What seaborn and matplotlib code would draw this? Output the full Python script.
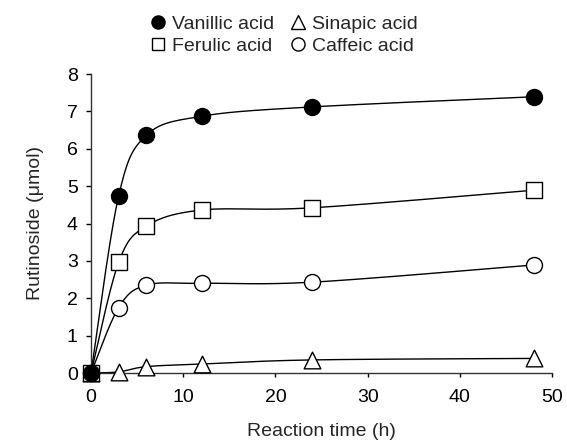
import numpy as np
import pandas as pd
import matplotlib
matplotlib.use("Agg")
import matplotlib.pyplot as plt
import seaborn as sns
from matplotlib.lines import Line2D

# ---- data ----
time_h = [0, 3, 6, 12, 24, 48]
vanillic = [0.0, 4.74, 6.36, 6.87, 7.12, 7.39]
ferulic = [0.0, 2.96, 3.93, 4.36, 4.42, 4.89]
caffeic = [0.0, 1.75, 2.35, 2.40, 2.43, 2.89]
sinapic = [0.0, 0.03, 0.17, 0.24, 0.35, 0.39]
series_names = ["Vanillic acid", "Ferulic acid", "Sinapic acid", "Caffeic acid"]
x_ticks = [0, 10, 20, 30, 40, 50]
y_ticks = [0, 1, 2, 3, 4, 5, 6, 7, 8]

sns.set_theme(style="ticks")
plt.rcParams["font.family"] = ["Liberation Sans", "DejaVu Sans"]

fig = plt.figure(figsize=(5.67, 4.44), dpi=100)
ax = fig.add_axes([91 / 567, 1 - 373 / 444, (552 - 91) / 567, (373 - 74) / 444])

def smooth(xs, ys, n=40):
    # Catmull-Rom style smoothing (like spreadsheet "smoothed line") in scaled space
    sx, sy = 1 / 50.0, 1 / 8.0
    P = np.column_stack([np.asarray(xs, float) * sx, np.asarray(ys, float) * sy])
    out = []
    m = len(P)
    for i in range(m - 1):
        p0 = P[i - 1] if i > 0 else P[i]
        p1, p2 = P[i], P[i + 1]
        p3 = P[i + 2] if i + 2 < m else P[i + 1]
        c1 = p1 + (p2 - p0) / 6.0
        c2 = p2 - (p3 - p1) / 6.0
        t = np.linspace(0, 1, n)[:, None]
        seg = ((1 - t) ** 3) * p1 + 3 * ((1 - t) ** 2) * t * c1 + 3 * (1 - t) * t ** 2 * c2 + t ** 3 * p2
        out.append(seg if i == 0 else seg[1:])
    S = np.vstack(out)
    return S[:, 0] / sx, S[:, 1] / sy

series = {"Vanillic acid": vanillic, "Ferulic acid": ferulic,
          "Sinapic acid": sinapic, "Caffeic acid": caffeic}
styles = {"Vanillic acid": ("o", "black", 11.5),
          "Ferulic acid": ("s", "white", 11.0),
          "Sinapic acid": ("^", "white", 12.0),
          "Caffeic acid": ("o", "white", 11.5)}

draw_order = ["Sinapic acid", "Caffeic acid", "Ferulic acid", "Vanillic acid"]
for name in draw_order:
    xs, ys = smooth(time_h, series[name])
    df = pd.DataFrame({"x": xs, "y": ys})
    sns.lineplot(data=df, x="x", y="y", ax=ax, color="black", lw=1.0,
                 sort=False, estimator=None, zorder=2)
for name in draw_order:
    mk, fc, ms = styles[name]
    dfp = pd.DataFrame({"x": time_h, "y": series[name]})
    sns.scatterplot(data=dfp, x="x", y="y", ax=ax, marker=mk, color=fc,
                    edgecolor="black", linewidth=1.0, s=(ms) ** 2, zorder=3,
                    clip_on=False)

ax.set_xlim(0, 50)
ax.set_ylim(0, 8)
ax.set_xticks(x_ticks)
ax.set_yticks(y_ticks)
ax.tick_params(axis="x", direction="out", length=3, width=1, labelsize=14, pad=8.5, colors="black")
ax.tick_params(axis="y", direction="out", length=3.6, width=1, labelsize=14, pad=6, colors="black")
for s in ["top", "right"]:
    ax.spines[s].set_visible(False)
for s in ["left", "bottom"]:
    ax.spines[s].set_linewidth(1.0)
    ax.spines[s].set_color("#333333")
ax.set_xlabel("Reaction time (h)", fontsize=14, labelpad=12)
ax.set_ylabel("Rutinoside (μmol)", fontsize=14, labelpad=16)

handles = []
for name in series_names:
    mk, fc, ms = styles[name]
    handles.append(Line2D([], [], ls="none", marker=mk, markerfacecolor=fc,
                          markeredgecolor="black", markersize=ms * 0.82,
                          markeredgewidth=1.0, label=name))
fig.legend(handles=handles, ncol=2, loc="center", bbox_to_anchor=(0.5, 0.921),
           frameon=False, fontsize=14, handletextpad=0.3, columnspacing=0.75,
           labelspacing=0.24, handlelength=0.9, borderpad=0)

fig.savefig("out.png", dpi=100)
